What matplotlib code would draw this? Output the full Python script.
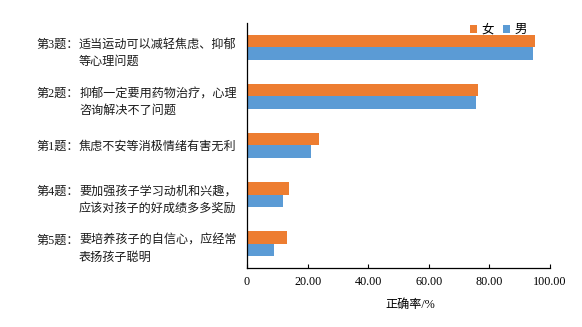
import matplotlib
matplotlib.use("Agg")
import matplotlib.pyplot as plt
import matplotlib.transforms as mtransforms
import numpy as np

plt.rcParams['font.family'] = ['Liberation Serif', 'Noto Sans CJK SC']

# data, top to bottom as in the chart
prefixes = ['第3题：', '第2题：', '第1题：', '第4题：', '第5题：']
bodies = ['适当运动可以减轻焦虑、抑郁\n等心理问题',
          '抑郁一定要用药物治疗，心理\n咨询解决不了问题',
          '焦虑不安等消极情绪有害无利',
          '要加强孩子学习动机和兴趣，\n应该对孩子的好成绩多多奖励',
          '要培养孩子的自信心，应经常\n表扬孩子聪明']
female = [95.0, 76.3, 23.7, 13.8, 13.2]
male = [94.3, 75.6, 21.0, 12.0, 8.8]
xticks = [0, 20, 40, 60, 80, 100]
xtick_labels = ['0', '20.00', '40.00', '60.00', '80.00', '100.00']

c_female = '#ED7D31'
c_male = '#5B9BD5'

fig = plt.figure(figsize=(5.82, 3.27), dpi=100)
ax = fig.add_axes([0.4244, 0.1804, 0.5206, 0.7493])

y = np.arange(len(prefixes))
h = 0.255
ax.barh(y - h / 2, female, height=h, color=c_female, label='女')
ax.barh(y + h / 2, male, height=h, color=c_male, label='男')

ax.set_ylim(4.5, -0.5)
ax.set_xlim(0, 100)
ax.set_yticks([])
ax.set_xticks(xticks)
ax.set_xticklabels(xtick_labels, fontsize=8.7)
ax.tick_params(axis='x', direction='in', length=3, width=0.8, pad=6)
ax.spines['top'].set_visible(False)
ax.spines['right'].set_visible(False)
ax.spines['left'].set_linewidth(0.9)
ax.spines['bottom'].set_linewidth(0.9)

ax.set_xlabel('正确率/%', fontsize=8.7)
ax.xaxis.set_label_coords(0.54, -0.125)

# category labels: prefix + body with hanging indent
trans = mtransforms.blended_transform_factory(fig.transFigure, ax.transData)
for i in range(len(prefixes)):
    nlines = bodies[i].count('\n') + 1
    if nlines > 1:
        # first line sits a little above the bar group centre
        dy = mtransforms.ScaledTranslation(0, 8.5 / 100, fig.dpi_scale_trans)
        va = 'top'
    else:
        dy = mtransforms.ScaledTranslation(0, -1.5 / 100, fig.dpi_scale_trans)
        va = 'center'
    ax.text(36 / 582, i, prefixes[i], transform=trans + dy, fontsize=8.7,
            ha='left', va=va, color='#1a1a1a')
    ax.text(79 / 582, i, bodies[i], transform=trans + dy, fontsize=8.7,
            ha='left', va=va, linespacing=1.5, color='#1a1a1a')

leg = ax.legend(loc='upper right', bbox_to_anchor=(0.96, 1.04), ncol=2, frameon=False,
                handlelength=0.55, handleheight=0.55, handletextpad=0.35, columnspacing=0.7,
                prop={'size': 9})

fig.savefig('out.png', dpi=100)
